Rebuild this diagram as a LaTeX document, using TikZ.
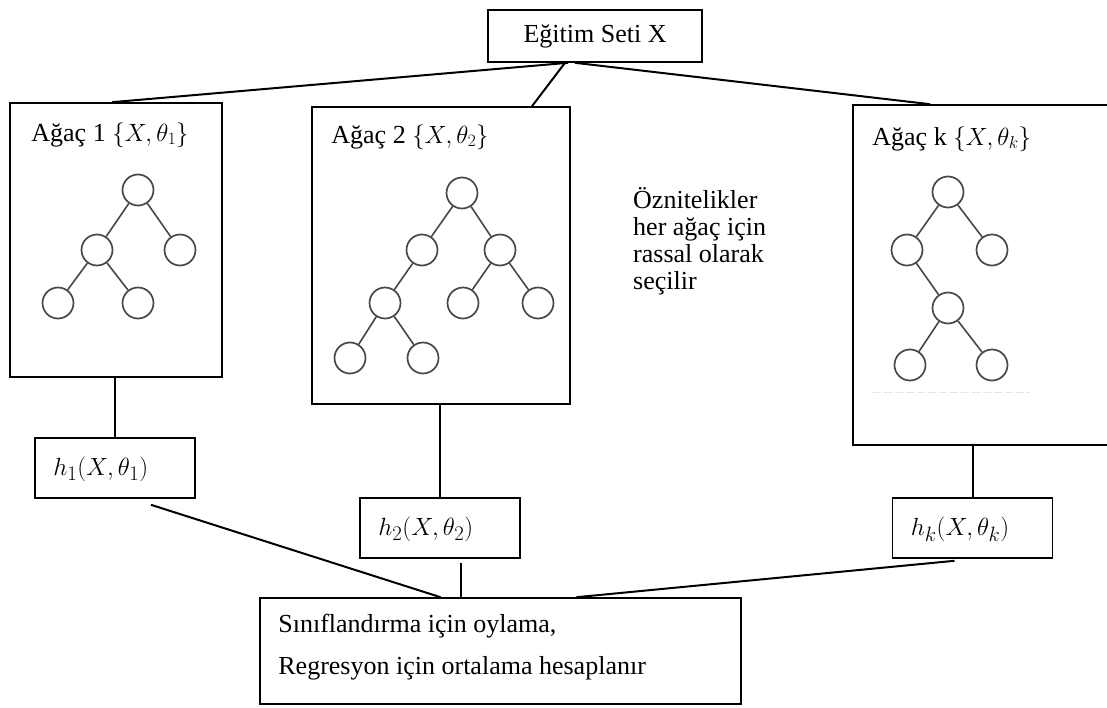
\documentclass[tikz,border=0pt]{standalone}
\usepackage{fontspec}
\setmainfont{Liberation Serif}
\begin{document}
\begin{tikzpicture}[x=1pt,y=-1pt,
  box/.style={draw=black, line width=1.6pt, inner sep=0pt},
  link/.style={draw=black, line width=2pt},
  leaf/.style={circle, draw=black!72, line width=1.7pt, minimum size=31pt, inner sep=0pt},
  branch/.style={draw=black!72, line width=1.6pt},
  txt/.style={font=\fontsize{26}{30}\selectfont, inner sep=0pt},
  lbl/.style={txt, anchor=base west},
  hlbl/.style={font=\fontsize{28}{32}\selectfont, inner sep=0pt, anchor=west},
]
\useasboundingbox (0,0) rectangle (1107,708);
\clip (0,0) rectangle (1107,708);

% top box
\node[box, txt, minimum width=214pt, minimum height=52pt] (train) at (595,36) {Eğitim Seti X};

% tree boxes
\node[box, minimum width=212pt, minimum height=274pt] (tree1) at (116,240) {};
\node[box, minimum width=258pt, minimum height=297pt] (tree2) at (441,255.5) {};
\node[box, minimum width=267pt, minimum height=340pt] (treek) at (986.5,275) {};

\node[lbl] (lab1) at ([xshift=22pt,yshift=-39pt]tree1.north west) {Ağaç 1 $\{X,\theta_1\}$};
\node[lbl] (lab2) at ([xshift=20pt,yshift=-37pt]tree2.north west) {Ağaç 2 $\{X,\theta_2\}$};
\node[lbl] (labk) at ([xshift=20pt,yshift=-41pt]treek.north west) {Ağaç k $\{X,\theta_k\}$};

% tree 1
\node[leaf] (a0) at (138,190) {};
\node[leaf] (a1) at (97,250) {};
\node[leaf] (a2) at (180,250) {};
\node[leaf] (a3) at (58,303) {};
\node[leaf] (a4) at (138,303) {};
\draw[branch] (a0) -- (a1) (a0) -- (a2) (a1) -- (a3) (a1) -- (a4);

% tree 2
\node[leaf] (b0) at (462,193) {};
\node[leaf] (b1) at (422,250) {};
\node[leaf] (b2) at (500,250) {};
\node[leaf] (b3) at (385,303) {};
\node[leaf] (b4) at (463,303) {};
\node[leaf] (b5) at (538,303) {};
\node[leaf] (b6) at (350,358) {};
\node[leaf] (b7) at (423,358) {};
\draw[branch] (b0) -- (b1) (b0) -- (b2) (b1) -- (b3) (b2) -- (b4) (b2) -- (b5)
  (b3) -- (b6) (b3) -- (b7);

% tree k
\node[leaf] (c0) at (948,192) {};
\node[leaf] (c1) at (907,250) {};
\node[leaf] (c2) at (992,250) {};
\node[leaf] (c3) at (948,308) {};
\node[leaf] (c4) at (910,365) {};
\node[leaf] (c5) at (992,365) {};
\draw[branch] (c0) -- (c1) (c0) -- (c2) (c1) -- (c3) (c3) -- (c4) (c3) -- (c5);
\draw[black!10, line width=1pt, dash pattern=on 8pt off 3pt] (873,392) -- (1030,392);

% side note
\node[lbl] (n1) at (633,209) {Öznitelikler};
\node[lbl] (n2) at (633,236) {her ağaç için};
\node[lbl] (n3) at (633,263) {rassal olarak};
\node[lbl] (n4) at (633,290) {seçilir};

% per-tree predictors
\node[box, minimum width=160pt, minimum height=60pt] (h1) at (115,468) {};
\node[box, minimum width=160pt, minimum height=60pt] (h2) at (440,528) {};
\node[box, minimum width=160pt, minimum height=60pt] (hk) at (972.5,528) {};
\node[hlbl] (h1t) at ([xshift=19pt,yshift=-1pt]h1.west) {$h_1(X,\theta_1)$};
\node[hlbl] (h2t) at ([xshift=19pt,yshift=-1pt]h2.west) {$h_2(X,\theta_2)$};
\node[hlbl] (hkt) at ([xshift=19pt,yshift=-1pt]hk.west) {$h_k(X,\theta_k)$};

% aggregation box
\node[box, minimum width=481pt, minimum height=106pt] (bot) at (500.5,651) {};
\node[lbl] (s1) at ([xshift=19pt,yshift=-35pt]bot.north west) {Sınıflandırma için oylama,};
\node[lbl] (s2) at ([xshift=19pt,yshift=-77pt]bot.north west) {Regresyon için ortalama hesaplanır};

% connectors from the training set
\draw[link] ([xshift=-27pt]train.south) -- ([xshift=-4pt]tree1.north);
\draw[link] ([xshift=-30pt]train.south) -- ([xshift=91pt]tree2.north);
\draw[link] ([xshift=-20pt]train.south) -- ([xshift=-56.5pt]treek.north);

% trees to predictors
\draw[link] (h1.north |- tree1.south) -- (h1.north);
\draw[link] (h2.north |- tree2.south) -- (h2.north);
\draw[link] (hk.north |- treek.south) -- (hk.north);

% predictors to aggregation
\coordinate (h1out) at ([xshift=36pt,yshift=-6pt]h1.south);
\coordinate (h2out) at ([xshift=21pt,yshift=-4pt]h2.south);
\coordinate (hkout) at ([xshift=-18pt,yshift=-2pt]hk.south);
\draw[link] (h1out) -- ([xshift=-60pt]bot.north);
\draw[link] (h2out) -- (h2out |- bot.north);
\draw[link] (hkout) -- ([xshift=76pt]bot.north);
\end{tikzpicture}
\end{document}
